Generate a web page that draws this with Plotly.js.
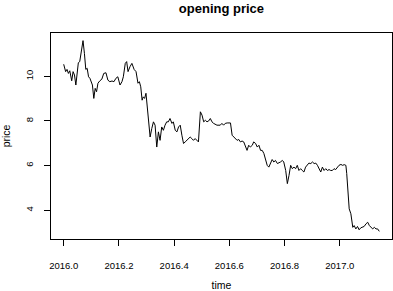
<!DOCTYPE html>
<html>
<head>
<meta charset="utf-8">
<script src="https://cdn.plot.ly/plotly-3.0.1.min.js"></script>
<style>html,body{margin:0;padding:0;background:#fff;}#chart{width:393px;height:291px;}</style>
</head>
<body>
<div id="chart"></div>
<script>
const time = [2016.000,2016.007,2016.012,2016.017,2016.022,2016.029,2016.034,2016.039,2016.044,2016.048,
2016.053,2016.058,2016.063,2016.070,2016.075,2016.080,2016.085,2016.090,2016.095,2016.099,
2016.104,2016.109,2016.114,2016.119,2016.124,2016.131,2016.138,2016.145,2016.153,2016.160,
2016.167,2016.175,2016.182,2016.189,2016.196,2016.204,2016.211,2016.216,2016.223,2016.228,
2016.233,2016.240,2016.247,2016.255,2016.262,2016.269,2016.274,2016.279,2016.284,2016.288,
2016.293,2016.298,2016.303,2016.308,2016.313,2016.319,2016.325,2016.331,2016.337,2016.343,
2016.349,2016.355,2016.361,2016.367,2016.373,2016.379,2016.385,2016.392,2016.397,2016.404,
2016.410,2016.416,2016.422,2016.428,2016.434,2016.440,2016.446,2016.452,2016.458,2016.464,
2016.470,2016.476,2016.483,2016.488,2016.495,2016.501,2016.507,2016.513,2016.519,2016.525,
2016.531,2016.537,2016.543,2016.549,2016.555,2016.567,2016.573,2016.579,2016.585,2016.592,
2016.604,2016.610,2016.616,2016.622,2016.628,2016.634,2016.640,2016.646,2016.652,2016.664,
2016.670,2016.676,2016.683,2016.688,2016.695,2016.701,2016.707,2016.713,2016.719,2016.725,
2016.731,2016.737,2016.743,2016.749,2016.755,2016.761,2016.767,2016.774,2016.779,2016.785,
2016.792,2016.797,2016.804,2016.810,2016.816,2016.822,2016.828,2016.834,2016.840,2016.846,
2016.852,2016.858,2016.864,2016.870,2016.876,2016.883,2016.888,2016.895,2016.901,2016.907,
2016.913,2016.919,2016.925,2016.931,2016.937,2016.943,2016.949,2016.955,2016.961,2016.967,
2016.973,2016.979,2016.985,2016.992,2016.997,2017.004,2017.010,2017.016,2017.022,2017.025,
2017.030,2017.034,2017.040,2017.044,2017.047,2017.052,2017.058,2017.064,2017.070,2017.076,
2017.083,2017.088,2017.095,2017.101,2017.107,2017.113,2017.119,2017.125,2017.131,2017.137,
2017.143];
const price = [10.54,10.21,10.31,10.13,10.25,9.80,10.21,10.06,9.61,10.21,
10.61,10.66,11.03,11.60,11.03,10.31,10.36,9.98,9.91,9.80,
9.61,9.01,9.46,9.31,9.69,9.80,9.87,10.13,10.16,9.83,
9.76,9.79,9.76,9.91,9.98,9.61,9.76,9.98,10.58,10.66,
10.21,10.43,10.58,10.31,10.21,9.69,9.76,9.53,8.93,9.08,
9.01,9.24,8.63,7.89,7.28,7.66,7.96,7.81,6.83,7.51,
7.13,7.73,7.58,7.81,7.96,7.96,8.11,7.89,7.96,7.58,
7.51,7.73,7.81,7.36,6.99,7.06,7.13,7.21,7.28,7.21,
7.13,7.21,7.13,7.06,8.41,8.26,7.96,8.03,7.96,8.00,
8.11,7.96,7.89,7.85,7.81,7.81,7.89,7.81,7.89,7.91,
7.91,7.36,7.28,7.21,7.13,7.17,7.06,7.10,7.06,6.68,
6.91,6.83,6.91,7.06,6.99,6.83,6.91,6.68,6.68,6.54,
6.31,6.01,5.93,6.09,6.27,6.16,6.23,6.09,6.11,6.16,
6.23,6.16,5.78,5.19,5.56,6.01,5.86,5.93,5.86,6.01,
5.78,5.86,5.78,5.71,5.93,6.05,6.11,6.09,6.16,6.09,
6.11,6.01,5.86,5.71,5.93,5.78,5.86,5.78,5.82,5.78,
5.78,5.86,5.82,5.93,6.01,6.05,6.01,6.04,6.01,5.64,
4.74,4.06,3.84,3.54,3.23,3.31,3.16,3.27,3.12,3.21,
3.23,3.27,3.39,3.46,3.31,3.23,3.16,3.23,3.16,3.16,
3.05];
const xTicks = [2016.0, 2016.2, 2016.4, 2016.6, 2016.8, 2017.0];
const xTickLabels = ["2016.0", "2016.2", "2016.4", "2016.6", "2016.8", "2017.0"];
const yTicks = [4, 6, 8, 10];
const yTickLabels = ["4", "6", "8", "10"];

const font = "Liberation Sans, Arial, Helvetica, sans-serif";
const trace = {
  x: time, y: price, type: "scatter", mode: "lines",
  line: {color: "#000000", width: 1}, hoverinfo: "skip"
};
const layout = {
  width: 393, height: 291,
  margin: {l: 51, r: 1, t: 33, b: 52},
  paper_bgcolor: "#ffffff", plot_bgcolor: "#ffffff",
  showlegend: false,
  font: {family: font, color: "#000000", size: 9},
  title: {text: "<b>opening price</b>", font: {family: font, size: 13, color: "#000"},
          x: 0.5635, xanchor: "center", y: 0.972, yanchor: "middle"},
  xaxis: {
    range: [2015.954, 2017.189], autorange: false,
    tickmode: "array", tickvals: xTicks, ticktext: xTickLabels,
    ticks: "outside", ticklen: 6, tickwidth: 1, tickcolor: "#000",
    showline: true, mirror: true, linecolor: "#000", linewidth: 1,
    showgrid: false, zeroline: false,
    tickfont: {size: 9.5}, ticklabelstandoff: 12,
    title: {text: "time", font: {size: 10.5}, standoff: 12}
  },
  yaxis: {
    range: [2.708, 11.942], autorange: false,
    tickmode: "array", tickvals: yTicks, ticktext: yTickLabels,
    ticks: "outside", ticklen: 6, tickwidth: 1, tickcolor: "#000",
    tickangle: -90,
    showline: true, mirror: true, linecolor: "#000", linewidth: 1,
    showgrid: false, zeroline: false,
    tickfont: {size: 9.5}, ticklabelstandoff: 7,
    title: {text: "price", font: {size: 10.5}, standoff: 11}
  }
};
Plotly.newPlot("chart", [trace], layout, {staticPlot: true, displayModeBar: false});
</script>
</body>
</html>
